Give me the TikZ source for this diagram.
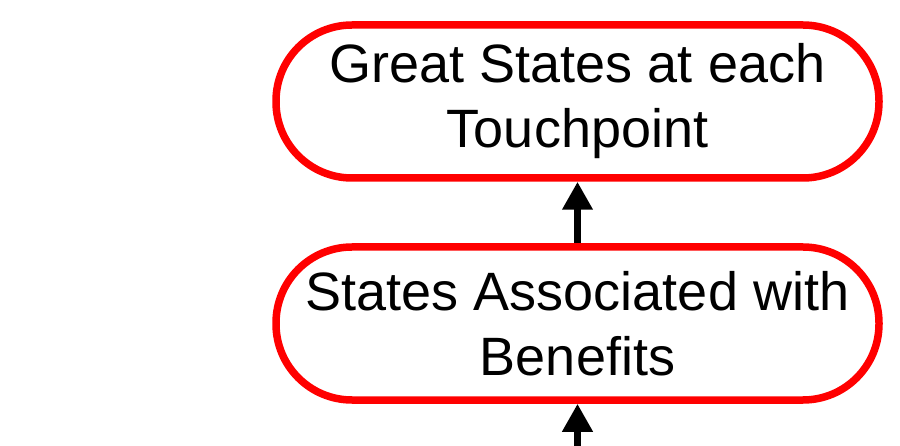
\documentclass[tikz,border=0pt]{standalone}
\usepackage{fontspec}
\setmainfont{Liberation Sans}
\usepackage{tikz}
\usetikzlibrary{arrows.meta,shapes,positioning,calc}

\begin{document}
\begin{tikzpicture}[
    node distance=222pt,
    box/.style={rectangle, draw=red, line width=7.5pt, rounded corners=76pt, minimum width=603pt, minimum height=153pt, align=center, font=\fontsize{54}{65}\selectfont},
    arrow/.style={-{Triangle[width=29pt,length=28pt]}, line width=7pt}
]
    \useasboundingbox (0,0) rectangle (900pt,-446pt);
    \node[box] (great) at (577.5pt,-101.5pt) {Great States at each\\Touchpoint};
    \node[box, below of=great] (benefits) {States Associated with\\Benefits};
    \coordinate[below of=benefits, yshift=60pt] (from);

    \draw[arrow] (benefits) -- (great);
    \draw[arrow] (from) -- (benefits);
\end{tikzpicture}
\end{document}
